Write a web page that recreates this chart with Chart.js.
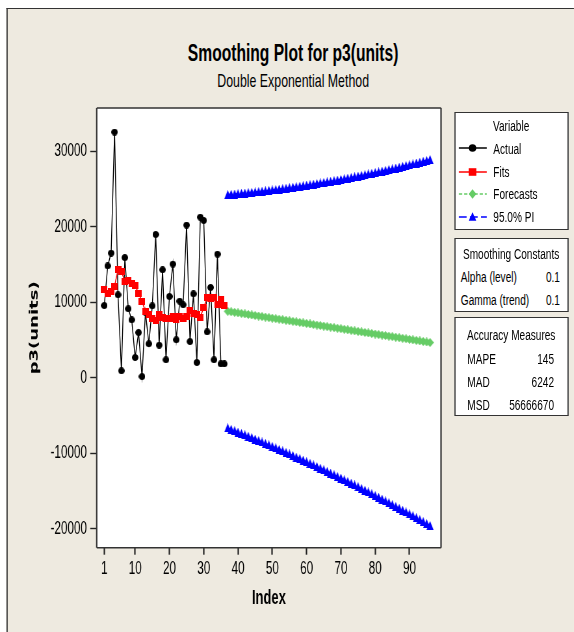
<!DOCTYPE html>
<html>
<head>
<meta charset="utf-8">
<script src="https://cdn.jsdelivr.net/npm/chart.js@4.4.0/dist/chart.umd.min.js"></script>
<style>
  html, body { margin: 0; padding: 0; background: #fff; overflow: hidden; width: 574px; height: 632px; }
  /* everything is laid out 1/0.65 wider and squeezed back, like the reference */
  #page { position: absolute; left: 0; top: 0; width: 883px; height: 632px; transform: scaleX(0.65); transform-origin: 0 0; font-family: "Liberation Sans", Arial, sans-serif; color: #000; }
  #frame { position: absolute; left: 10px; top: 8px; right: 0; bottom: 0; background: #EEEAE0; border-left: 2px solid #333; border-top: 1px solid #333; }
  #chart { position: absolute; left: 0; top: 0; }
  .t { position: absolute; white-space: nowrap; line-height: 1; }
  .box { position: absolute; background: #fff; border: 1.5px solid #333; border-left-width: 2px; border-right-width: 2px; box-sizing: border-box; }
  svg { position: absolute; overflow: visible; }
</style>
</head>
<body>
<div id="page">
  <div id="frame"></div>
  <div class="t" style="left:151px; width:600px; text-align:center; top:41px; font-size:24px; font-weight:bold;">Smoothing Plot for p3(units)</div>
  <div class="t" style="left:151px; width:600px; text-align:center; top:71px; font-size:19px;">Double Exponential Method</div>

  <div class="box" style="left:699px; top:112px; width:176px; height:118px;"></div>
  <div class="box" style="left:699px; top:238px; width:176px; height:74px;"></div>
  <div class="box" style="left:699px; top:317px; width:176px; height:99px;"></div>
  <div id="legend"></div>

  <canvas id="chart" width="883" height="632"></canvas>
</div>

<script>
const SX = 0.65;

// actual observations, index 1..36
const actual = [9560, 14800, 16500, 32500, 10980, 930, 15900, 9130, 7670, 2690,
                5990, 170, 8700, 4500, 9520, 18960, 4320, 14290, 2380, 10760,
                15040, 5030, 10140, 9660, 20200, 4800, 11110, 2030, 21250, 20810,
                6080, 11950, 2380, 16360, 1850, 1850];

// fitted values, index 1..36
const fits = [11640, 11200, 11420, 12120, 14290, 14060, 12740, 12900, 12450, 12210,
              11150, 10140, 8770, 8330, 7780, 7600, 8380, 8000, 7900, 7890,
              8110, 7670, 8110, 7890, 8100, 8860, 8550, 8330, 8020, 9300,
              10620, 10540, 10620, 9660, 10410, 9520];

// forecasts and 95% limits, index 37..96
const firstForecast = 37;
const forecasts = [8800, 8730, 8660, 8590, 8520, 8450, 8380, 8310, 8240, 8170,
                   8100, 8030, 7960, 7890, 7820, 7750, 7680, 7610, 7540, 7470,
                   7400, 7330, 7260, 7190, 7120, 7050, 6980, 6910, 6840, 6770,
                   6700, 6630, 6560, 6490, 6420, 6350, 6280, 6210, 6140, 6070,
                   6000, 5930, 5860, 5790, 5720, 5650, 5580, 5510, 5440, 5370,
                   5300, 5230, 5160, 5090, 5020, 4950, 4880, 4810, 4740, 4670];
const upperPI = [24230, 24270, 24310, 24350, 24400, 24440, 24490, 24530, 24580, 24630,
                 24690, 24740, 24790, 24850, 24900, 24960, 25020, 25080, 25150, 25210,
                 25280, 25340, 25410, 25480, 25550, 25620, 25690, 25770, 25840, 25920,
                 26000, 26080, 26160, 26240, 26330, 26410, 26500, 26590, 26680, 26770,
                 26860, 26960, 27050, 27150, 27240, 27340, 27440, 27540, 27650, 27750,
                 27860, 27970, 28070, 28180, 28290, 28410, 28520, 28640, 28750, 28870];
const lowerPI = [-6630, -6810, -6990, -7170, -7360, -7540, -7730, -7910, -8100, -8290,
                 -8490, -8680, -8870, -9070, -9260, -9460, -9660, -9860, -10070, -10270,
                 -10480, -10680, -10890, -11100, -11310, -11520, -11730, -11950, -12160, -12380,
                 -12600, -12820, -13040, -13260, -13490, -13710, -13940, -14170, -14400, -14630,
                 -14860, -15100, -15330, -15570, -15800, -16040, -16280, -16520, -16770, -17010,
                 -17260, -17510, -17750, -18000, -18250, -18510, -18760, -19020, -19270, -19530];

const xTicks = [1, 10, 20, 30, 40, 50, 60, 70, 80, 90];
const yTicks = [-20000, -10000, 0, 10000, 20000, 30000];

const smoothing = [['Alpha (level)', '0.1'], ['Gamma (trend)', '0.1']];
const accuracy = [['MAPE', '145'], ['MAD', '6242'], ['MSD', '56666670']];

const BLACK = '#000000', RED = '#FF0000', GREEN = '#66CC66', BLUE = '#0000FF';

// marker images, pre-stretched so they look right after the squeeze
function marker(shape, color, w, h) {
  const c = document.createElement('canvas');
  c.width = Math.round(w / SX);
  c.height = Math.round(h);
  const g = c.getContext('2d');
  const W = c.width, H = c.height;
  g.fillStyle = color;
  g.beginPath();
  if (shape === 'circle') g.ellipse(W / 2, H / 2, W / 2, H / 2, 0, 0, Math.PI * 2);
  else if (shape === 'square') g.rect(0, 0, W, H);
  else if (shape === 'diamond') { g.moveTo(W / 2, 0); g.lineTo(W, H / 2); g.lineTo(W / 2, H); g.lineTo(0, H / 2); g.closePath(); }
  else { g.moveTo(W / 2, 0); g.lineTo(W, H); g.lineTo(0, H); g.closePath(); }
  g.fill();
  return c;
}

function toPoints(values, start) {
  return values.map((v, i) => ({x: start + i, y: v}));
}

// white plot area + box round it
const plotFrame = {
  id: 'plotFrame',
  beforeDraw(chart) {
    const {ctx, chartArea: a} = chart;
    ctx.save();
    ctx.fillStyle = '#fff';
    ctx.fillRect(a.left, a.top, a.right - a.left, a.bottom - a.top);
    ctx.restore();
  },
  afterDraw(chart) {
    const {ctx, chartArea: a} = chart;
    ctx.save();
    ctx.strokeStyle = '#333';
    ctx.lineWidth = 1.4;
    ctx.beginPath();
    ctx.moveTo(a.left, a.top); ctx.lineTo(a.right, a.top);
    ctx.moveTo(a.left, a.bottom); ctx.lineTo(a.right, a.bottom);
    ctx.stroke();
    ctx.lineWidth = 2.2;
    ctx.beginPath();
    ctx.moveTo(a.left, a.top); ctx.lineTo(a.left, a.bottom);
    ctx.moveTo(a.right, a.top); ctx.lineTo(a.right, a.bottom);
    ctx.stroke();
    ctx.restore();
  }
};

const tickFont = {family: '"Liberation Sans", Arial, sans-serif', size: 18};

let ctx = document.getElementById('chart').getContext('2d');
let chart = new Chart(ctx, {
  type: 'scatter',
  data: {
    datasets: [
      {
        label: 'Fits', data: toPoints(fits, 1), showLine: true, order: 1,
        borderColor: RED, borderWidth: 1.5, pointStyle: marker('square', RED, 6.5, 6.5)
      },
      {
        label: 'Actual', data: toPoints(actual, 1), showLine: true, order: 2,
        borderColor: BLACK, borderWidth: 1.4, pointStyle: marker('circle', BLACK, 6.5, 6.5)
      },
      {
        label: 'Forecasts', data: toPoints(forecasts, firstForecast), showLine: true, order: 3,
        borderColor: GREEN, borderWidth: 1.5, borderDash: [6, 4], pointStyle: marker('diamond', GREEN, 7.5, 9)
      },
      {
        label: '95.0% PI', data: toPoints(upperPI, firstForecast), showLine: true, order: 4,
        borderColor: BLUE, borderWidth: 1.5, borderDash: [6, 4], pointStyle: marker('triangle', BLUE, 7, 9)
      },
      {
        label: '95.0% PI lower', data: toPoints(lowerPI, firstForecast), showLine: true, order: 4,
        borderColor: BLUE, borderWidth: 1.5, borderDash: [6, 4], pointStyle: marker('triangle', BLUE, 7, 9)
      }
    ]
  },
  options: {
    responsive: false,
    animation: false,
    devicePixelRatio: 1,
    layout: {padding: {top: 108, right: 204.5, bottom: 0, left: 0}},
    plugins: {legend: {display: false}, tooltip: {enabled: false}},
    scales: {
      x: {
        type: 'linear', min: -1.2, max: 99.2,
        afterFit(scale) { scale.height = 84.3; },
        afterBuildTicks(scale) { scale.ticks = xTicks.map(v => ({value: v})); },
        ticks: {font: tickFont, color: '#000', padding: 4, autoSkip: false, maxRotation: 0, callback: v => String(v)},
        grid: {drawOnChartArea: false, tickLength: 7, tickColor: '#222', tickWidth: 2.2},
        border: {display: false},
        title: {display: true, text: 'Index', color: '#000', padding: {top: 0, bottom: 22},
                font: {family: '"Liberation Sans", Arial, sans-serif', size: 20, weight: 'bold'}}
      },
      y: {
        type: 'linear', min: -22474, max: 35690,
        afterFit(scale) { scale.width = 148.8; },
        afterBuildTicks(scale) { scale.ticks = yTicks.map(v => ({value: v})); },
        ticks: {font: tickFont, color: '#000', padding: 5, autoSkip: false, callback: v => String(v)},
        grid: {drawOnChartArea: false, tickLength: 10, tickColor: '#222', tickWidth: 1.4},
        border: {display: false},
        title: {display: true, text: 'p3(units)', color: '#000', padding: {top: 43, bottom: 0},
                font: {family: '"DejaVu Sans", sans-serif', size: 18, weight: 'bold'}}
      }
    }
  },
  plugins: [plotFrame]
});

// legend boxes on the right (HTML text)
const legend = document.getElementById('legend');

function addText(text, x, cy, size, align) {
  let d = document.createElement('div');
  d.className = 't';
  d.textContent = text;
  d.style.fontSize = size + 'px';
  d.style.top = (cy - size / 2) + 'px';
  if (align === 'center') { d.style.left = (x - 150) + 'px'; d.style.width = '300px'; d.style.textAlign = 'center'; }
  else if (align === 'right') { d.style.left = (x - 300) + 'px'; d.style.width = '300px'; d.style.textAlign = 'right'; }
  else d.style.left = x + 'px';
  legend.appendChild(d);
}

function addSample(cy, color, dash, shape) {
  const ns = 'http://www.w3.org/2000/svg';
  let s = document.createElementNS(ns, 'svg');
  s.setAttribute('width', 44); s.setAttribute('height', 16);
  s.style.left = '706px'; s.style.top = (cy - 8) + 'px';
  let l = document.createElementNS(ns, 'line');
  l.setAttribute('x1', 0); l.setAttribute('x2', 43); l.setAttribute('y1', 8); l.setAttribute('y2', 8);
  l.setAttribute('stroke', color); l.setAttribute('stroke-width', 1.5);
  if (dash) l.setAttribute('stroke-dasharray', dash);
  s.appendChild(l);
  const cx = 21, hw = 3.8 / SX, hh = 3.8;
  let m;
  if (shape === 'circle') {
    m = document.createElementNS(ns, 'ellipse');
    m.setAttribute('cx', cx); m.setAttribute('cy', 8); m.setAttribute('rx', hw); m.setAttribute('ry', hh);
  } else {
    m = document.createElementNS(ns, 'polygon');
    let pts;
    if (shape === 'square') pts = [[cx - hw, 8 - hh], [cx + hw, 8 - hh], [cx + hw, 8 + hh], [cx - hw, 8 + hh]];
    else if (shape === 'diamond') pts = [[cx, 8 - hh - 1], [cx + hw, 8], [cx, 8 + hh + 1], [cx - hw, 8]];
    else pts = [[cx, 8 - hh - 1], [cx + hw, 8 + hh], [cx - hw, 8 + hh]];
    m.setAttribute('points', pts.map(p => p.join(',')).join(' '));
  }
  m.setAttribute('fill', color);
  s.appendChild(m);
  legend.appendChild(s);
}

addText('Variable', 786.4, 126, 15.5, 'center');
const series = [['Actual', BLACK, null, 'circle'], ['Fits', RED, null, 'square'],
                ['Forecasts', GREEN, '5 3', 'diamond'], ['95.0% PI', BLUE, '12 5', 'triangle']];
const rowY = [148.3, 171.7, 194, 216.7];
series.forEach((s, i) => {
  addSample(rowY[i], s[1], s[2], s[3]);
  addText(s[0], 759, rowY[i], 15.5, 'left');
});

addText('Smoothing Constants', 786.4, 253.3, 15.5, 'center');
smoothing.forEach((r, i) => {
  addText(r[0], 709, 276.7 + i * 22.6, 15.5, 'left');
  addText(r[1], 861.5, 276.7 + i * 22.6, 15.5, 'right');
});

addText('Accuracy Measures', 786.4, 335, 15.5, 'center');
accuracy.forEach((r, i) => {
  addText(r[0], 719, 358.3 + i * 23, 15.5, 'left');
  addText(r[1], 852.3, 358.3 + i * 23, 15.5, 'right');
});
</script>
</body>
</html>
